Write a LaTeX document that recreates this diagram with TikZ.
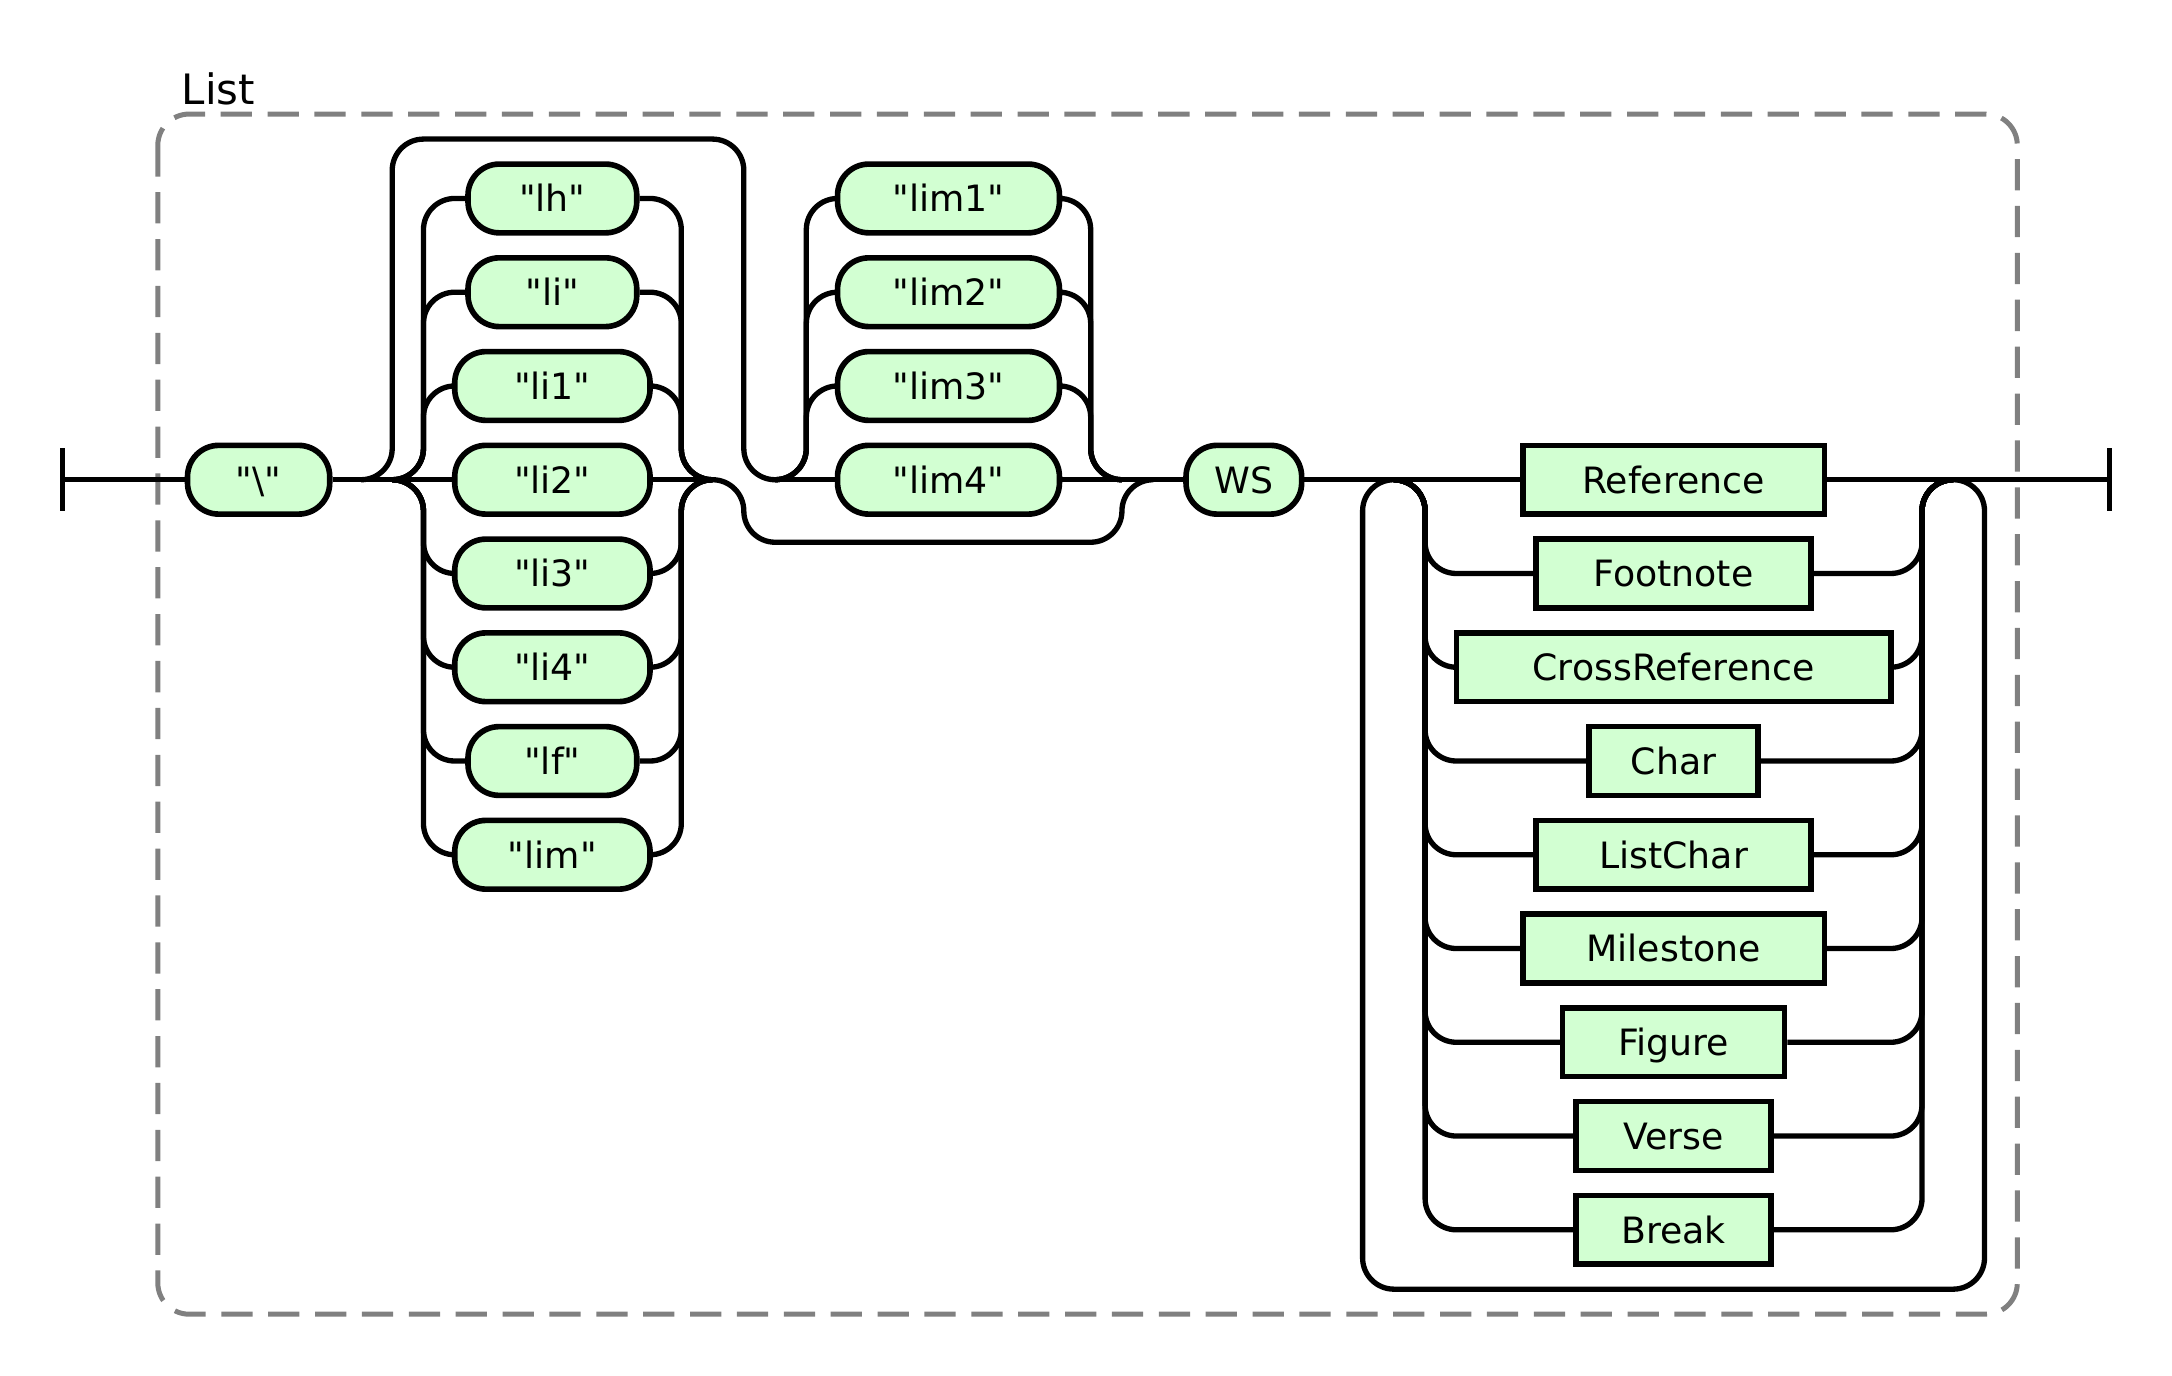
\documentclass[tikz,border=0pt]{standalone}
\usepackage{fontspec}
\setmainfont{DejaVu Sans}
\usepackage{tikz}
\usetikzlibrary{positioning}
\definecolor{rrgreen}{RGB}{210,255,210}
\definecolor{rrgray}{RGB}{128,128,128}
\newcommand{\rrfont}{\fontsize{11.6}{14}\selectfont}
\newcommand{\qq}[1]{\textquotedbl#1\textquotedbl}

\begin{document}
\begin{tikzpicture}[x=1pt,y=-1pt,
  rrterm/.style={draw,line width=1.8pt,fill=rrgreen,rounded corners=10pt,
    minimum height=22pt,inner sep=0pt,text height=10pt,text depth=1.5pt,font=\rrfont},
  rrnont/.style={draw,line width=1.8pt,fill=rrgreen,
    minimum height=22pt,inner sep=0pt,text height=10pt,text depth=1.5pt,font=\rrfont},
  rrline/.style={line width=1.7pt,rounded corners=10pt},
  grpbox/.style={draw=rrgray,line width=1.6pt,dash pattern=on 10pt off 5pt,rounded corners=10pt}
]
  \useasboundingbox (0,0) rectangle (695,440);

  % Group frame
  \draw[grpbox] (50.5,36.5) rectangle (645.5,420.5);
  \node[anchor=base west,inner sep=0pt,font=\fontsize{13.4}{16}\selectfont] (lbl) at (58,33.3) {List};

  % Junction points
  \coordinate (st) at (20,153.5);
  \coordinate (en) at (675,153.5);
  \coordinate (fkA) at (115.5,153.5);
  \coordinate (fkB) at (125.5,153.5);
  \coordinate (liL) at (135.5,153.5);
  \coordinate (liR) at (218,153.5);
  \coordinate (jnA) at (228,153.5);
  \coordinate (topL) at (125.5,44.5);
  \coordinate (cross) at (238,153.5);
  \coordinate (botL) at (238,173.5);
  \coordinate (jnB) at (248,153.5);
  \coordinate (limL) at (258,153.5);
  \coordinate (limR) at (349,153.5);
  \coordinate (jnC) at (359,153.5);
  \coordinate (jnD) at (369,153.5);
  \coordinate (rpL) at (436,153.5);
  \coordinate (oA) at (446,153.5);
  \coordinate (chL) at (456,153.5);
  \coordinate (chR) at (615,153.5);
  \coordinate (oB) at (625,153.5);
  \coordinate (lpR) at (635,412.5);

  % Terminals
  \node[rrterm,minimum width=45.5pt] (bs) at (82.75,153.5) {\qq{\textbackslash}};
  \node[rrterm,minimum width=54pt] (lh) at (176.75,63.5) {\qq{lh}};
  \node[rrterm,minimum width=54pt] (li) at (176.75,93.5) {\qq{li}};
  \node[rrterm,minimum width=62.5pt] (li1) at (176.75,123.5) {\qq{li1}};
  \node[rrterm,minimum width=62.5pt] (li2) at (176.75,153.5) {\qq{li2}};
  \node[rrterm,minimum width=62.5pt] (li3) at (176.75,183.5) {\qq{li3}};
  \node[rrterm,minimum width=62.5pt] (li4) at (176.75,213.5) {\qq{li4}};
  \node[rrterm,minimum width=54pt] (lf) at (176.75,243.5) {\qq{lf}};
  \node[rrterm,minimum width=62.5pt] (lim) at (176.75,273.5) {\qq{lim}};
  \node[rrterm,minimum width=71pt] (lim1) at (303.5,63.5) {\qq{lim1}};
  \node[rrterm,minimum width=71pt] (lim2) at (303.5,93.5) {\qq{lim2}};
  \node[rrterm,minimum width=71pt] (lim3) at (303.5,123.5) {\qq{lim3}};
  \node[rrterm,minimum width=71pt] (lim4) at (303.5,153.5) {\qq{lim4}};
  \node[rrterm,minimum width=37pt] (ws) at (398,153.5) {WS};

  % Nonterminals
  \node[rrnont,minimum width=96.5pt] (ref) at (535.5,153.5) {Reference};
  \node[rrnont,minimum width=88pt] (fn) at (535.5,183.5) {Footnote};
  \node[rrnont,minimum width=139pt] (xref) at (535.5,213.5) {CrossReference};
  \node[rrnont,minimum width=54pt] (chr) at (535.5,243.5) {Char};
  \node[rrnont,minimum width=88pt] (lch) at (535.5,273.5) {ListChar};
  \node[rrnont,minimum width=96.5pt] (mst) at (535.5,303.5) {Milestone};
  \node[rrnont,minimum width=71pt] (fig) at (535.5,333.5) {Figure};
  \node[rrnont,minimum width=62.5pt] (vrs) at (535.5,363.5) {Verse};
  \node[rrnont,minimum width=62.5pt] (brk) at (535.5,393.5) {Break};

  % Main line and end bars
  \draw[rrline] (st) ++(0,-10) -- ++(0,20);
  \draw[rrline] (en) ++(0,-10) -- ++(0,20);
  \draw[rrline] (st) -- (bs);
  \draw[rrline] (bs) -- (li2);
  \draw[rrline] (li2) -- (jnA);
  \draw[rrline] (jnB) -- (lim4);
  \draw[rrline] (lim4) -- (ws);
  \draw[rrline] (ws) -- (ref);
  \draw[rrline] (ref) -- (en);

  % Skip loops
  \draw[rrline] (fkA) -| (topL) -| (cross) -- (jnB);
  \draw[rrline] (jnA) -| (botL) -| (jnC) -- (jnD);

  % Choice of li terminals
  \draw[rrline] (fkB) -| (liL |- lh) -- (lh);
  \draw[rrline] (lh) -- (liR |- lh) |- (jnA);
  \draw[rrline] (fkB) -| (liL |- li) -- (li);
  \draw[rrline] (li) -- (liR |- li) |- (jnA);
  \draw[rrline] (fkB) -| (liL |- li1) -- (li1);
  \draw[rrline] (li1) -- (liR |- li1) |- (jnA);
  \draw[rrline] (fkB) -| (liL |- li3) -- (li3);
  \draw[rrline] (li3) -- (liR |- li3) |- (jnA);
  \draw[rrline] (fkB) -| (liL |- li4) -- (li4);
  \draw[rrline] (li4) -- (liR |- li4) |- (jnA);
  \draw[rrline] (fkB) -| (liL |- lf) -- (lf);
  \draw[rrline] (lf) -- (liR |- lf) |- (jnA);
  \draw[rrline] (fkB) -| (liL |- lim) -- (lim);
  \draw[rrline] (lim) -- (liR |- lim) |- (jnA);

  % Choice of lim terminals
  \draw[rrline] (jnB) -| (limL |- lim1) -- (lim1);
  \draw[rrline] (lim1) -- (limR |- lim1) |- (jnC);
  \draw[rrline] (jnB) -| (limL |- lim2) -- (lim2);
  \draw[rrline] (lim2) -- (limR |- lim2) |- (jnC);
  \draw[rrline] (jnB) -| (limL |- lim3) -- (lim3);
  \draw[rrline] (lim3) -- (limR |- lim3) |- (jnC);

  % Repeated choice of content
  \draw[rrline] (oB) -| (lpR) -| (rpL) -- (oA);
  \draw[rrline] (oA) -| (chL |- fn) -- (fn);
  \draw[rrline] (fn) -- (chR |- fn) |- (oB);
  \draw[rrline] (oA) -| (chL |- xref) -- (xref);
  \draw[rrline] (xref) -- (chR |- xref) |- (oB);
  \draw[rrline] (oA) -| (chL |- chr) -- (chr);
  \draw[rrline] (chr) -- (chR |- chr) |- (oB);
  \draw[rrline] (oA) -| (chL |- lch) -- (lch);
  \draw[rrline] (lch) -- (chR |- lch) |- (oB);
  \draw[rrline] (oA) -| (chL |- mst) -- (mst);
  \draw[rrline] (mst) -- (chR |- mst) |- (oB);
  \draw[rrline] (oA) -| (chL |- fig) -- (fig);
  \draw[rrline] (fig) -- (chR |- fig) |- (oB);
  \draw[rrline] (oA) -| (chL |- vrs) -- (vrs);
  \draw[rrline] (vrs) -- (chR |- vrs) |- (oB);
  \draw[rrline] (oA) -| (chL |- brk) -- (brk);
  \draw[rrline] (brk) -- (chR |- brk) |- (oB);
\end{tikzpicture}
\end{document}
